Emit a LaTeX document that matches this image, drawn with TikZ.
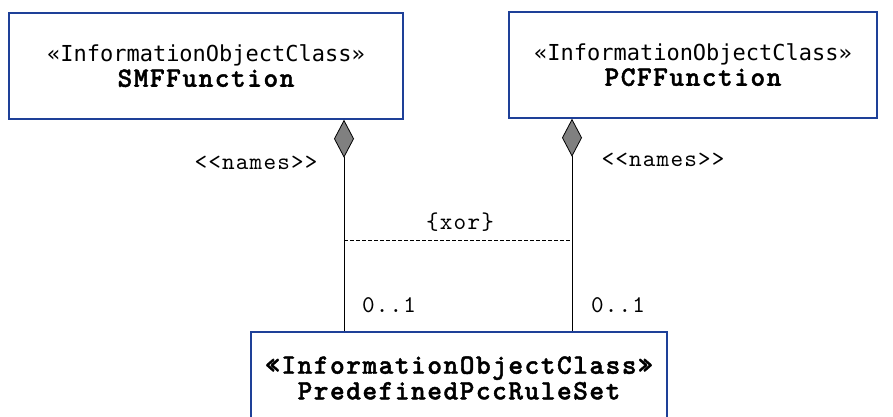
\documentclass[tikz,border=0pt]{standalone}
\usepackage{fontspec}
\newfontfamily\stereofont{DejaVu Sans Mono}
\newfontfamily\umlmono{lmmono10-regular.otf}[
  LetterSpace=5,
  BoldFont=lmmonolt10-bold.otf,
  BoldFeatures={FakeBold=1.5, LetterSpace=5.4}]
\usetikzlibrary{positioning, arrows.meta, calc}
\definecolor{umlblue}{RGB}{30,64,152}
\newcommand{\umlplain}{\umlmono\fontsize{24}{28}\selectfont}
\newcommand{\umlbold}{\umlmono\bfseries\fontsize{28}{33}\selectfont}
\tikzset{
  classbox/.style  = {draw=umlblue, line width=1.5pt, fill=white, align=center, inner sep=0pt},
  owner/.style     = {{Diamond[length=38pt, width=20pt, fill=gray, line width=0.8pt]}-, line width=0.8pt},
  xorline/.style   = {line width=0.8pt, dash pattern=on 4pt off 2pt},
  rolelabel/.style = {font=\umlplain, inner sep=0pt}
}

\begin{document}
\begin{tikzpicture}[x=1pt, y=-1pt]
    \clip (0,0) rectangle (893,417);

    % --- Class boxes ---------------------------------------------------------
    \node[classbox, minimum width=394pt, minimum height=106pt] (smf) at (206, 66)
      {{\stereofont\fontsize{22}{31}\selectfont «InformationObjectClass»}\\[2pt]
       {\umlbold SMFFunction}};

    \node[classbox, minimum width=368pt, minimum height=106pt] (pcf) at (693, 65)
      {{\stereofont\fontsize{22}{31}\selectfont «InformationObjectClass»}\\[2pt]
       {\umlbold PCFFunction}};

    \node[classbox, minimum width=416pt, minimum height=92pt] (ruleset) at (459, 378)
      {{\umlbold «InformationObjectClass»}\\[1pt]
       {\umlbold PredefinedPccRuleSet}};

    % --- Association ends --------------------------------------------------
    \coordinate (lx) at (344, 0);
    \coordinate (rx) at (572, 0);
    \coordinate (xorl) at (344, 240);
    \coordinate (xorr) at (572, 240);

    \draw[owner] (smf.south -| lx) -- (ruleset.north -| lx);
    \draw[owner] (pcf.south -| rx) -- (ruleset.north -| rx);
    \draw[xorline] (xorl) -- (xorr);

    % --- Labels ------------------------------------------------------------
    \node[rolelabel] (smfrole) at (256, 163) {<<names>>};
    \node[rolelabel] (pcfrole) at (663, 160) {<<names>>};
    \node[rolelabel] (smfmult) at (389, 305) {0..1};
    \node[rolelabel] (pcfmult) at (618, 305) {0..1};
    \node[rolelabel] (xor)     at (460, 222) {\{xor\}};

\end{tikzpicture}
\end{document}
